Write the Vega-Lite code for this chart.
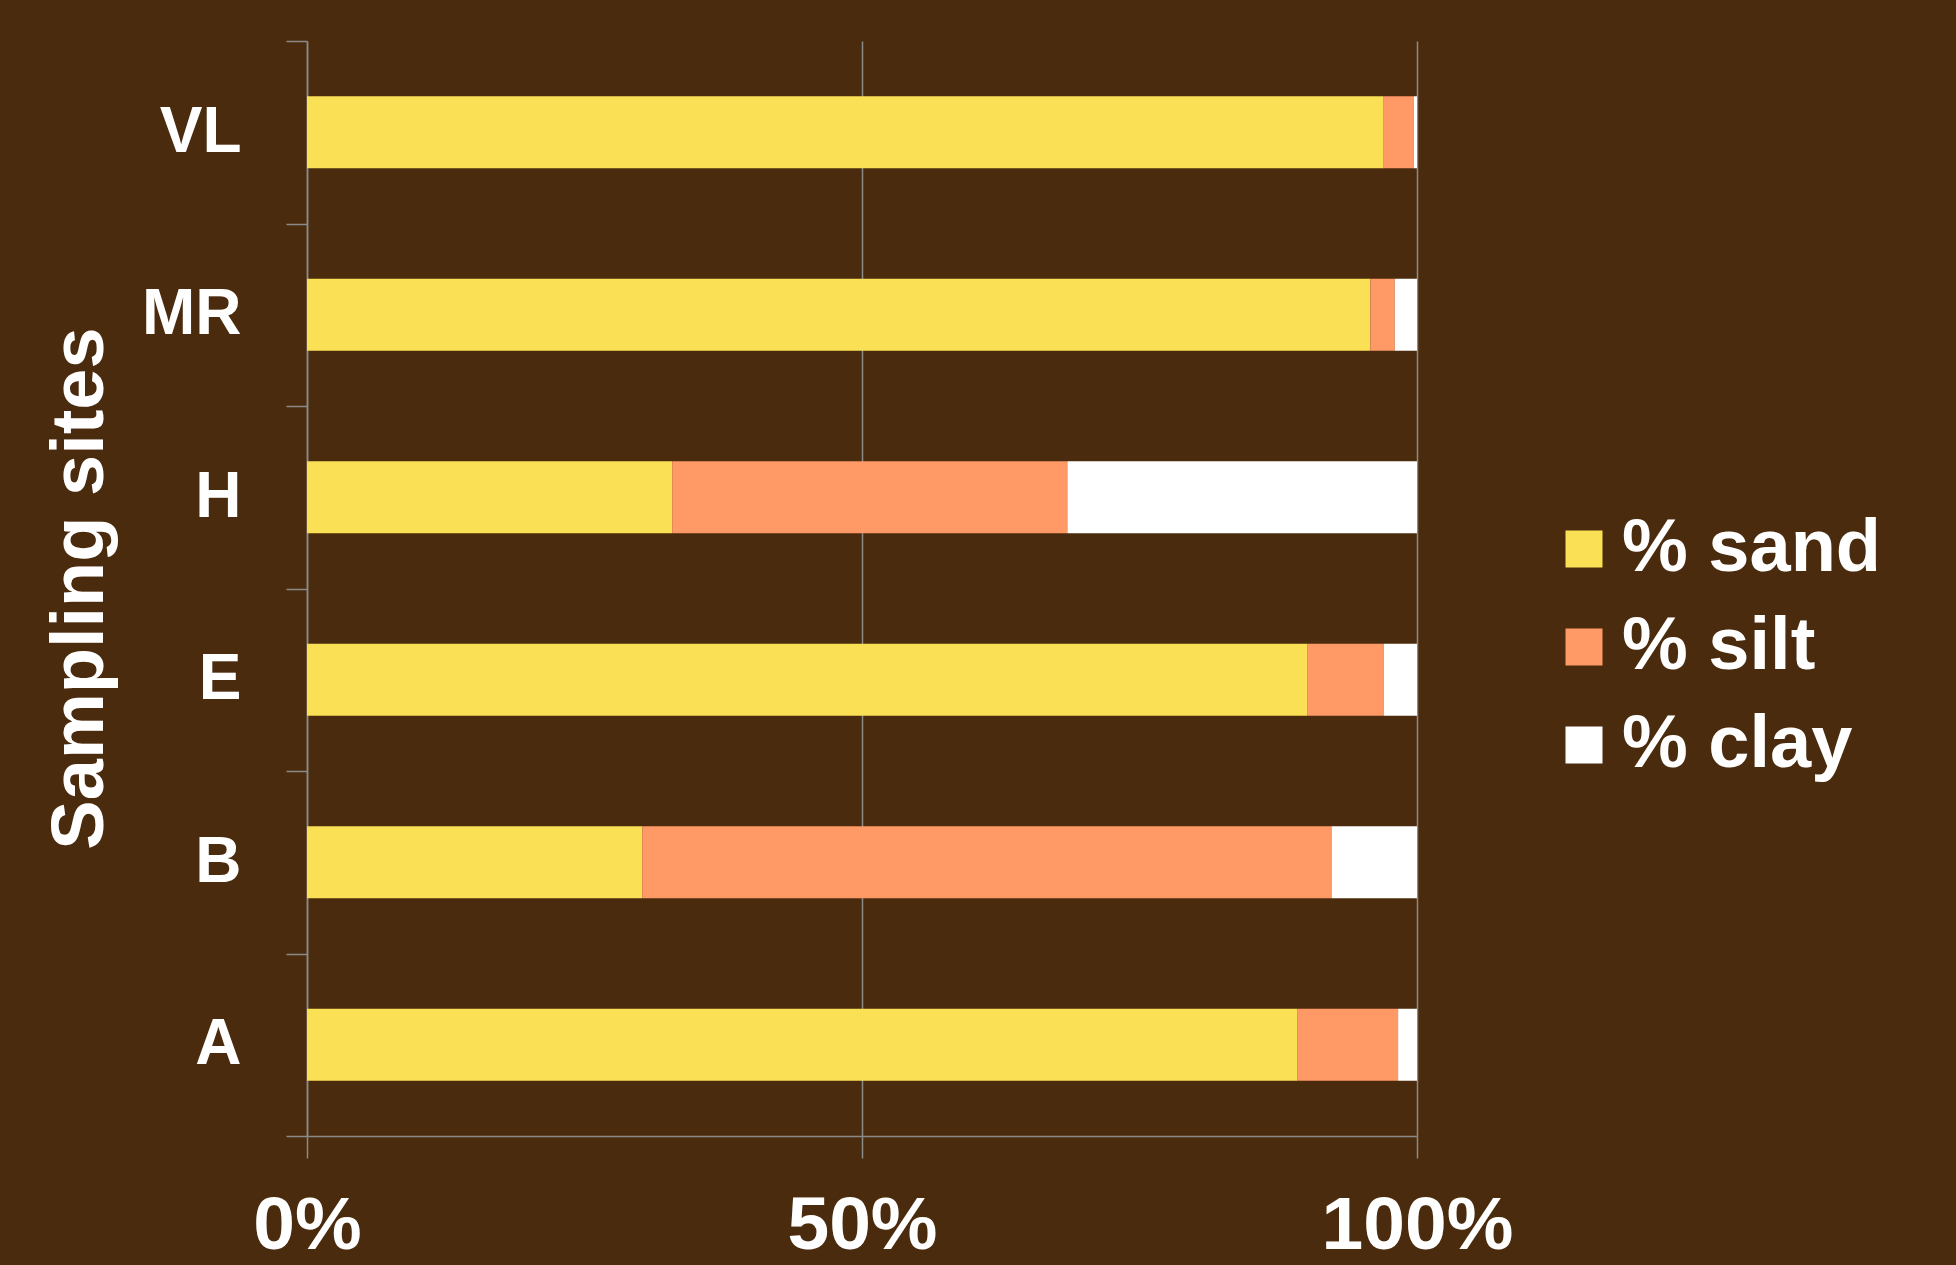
{
  "$schema": "https://vega.github.io/schema/vega-lite/v6.json",
  "autosize": "none",
  "width": 1110,
  "height": 1095,
  "padding": {"left": 307, "top": 41, "right": 539, "bottom": 129},
  "background": "#4b2b0d",
  "config": {
    "view": {"stroke": null},
    "font": "Liberation Sans"
  },
  "data": {
    "values": [
      {"site": "A", "component": "% sand", "ord": 1, "pct": 89.2},
      {"site": "A", "component": "% silt", "ord": 2, "pct": 9.1},
      {"site": "A", "component": "% clay", "ord": 3, "pct": 1.7},
      {"site": "B", "component": "% sand", "ord": 1, "pct": 30.2},
      {"site": "B", "component": "% silt", "ord": 2, "pct": 62.1},
      {"site": "B", "component": "% clay", "ord": 3, "pct": 7.7},
      {"site": "E", "component": "% sand", "ord": 1, "pct": 90.1},
      {"site": "E", "component": "% silt", "ord": 2, "pct": 6.9},
      {"site": "E", "component": "% clay", "ord": 3, "pct": 3.0},
      {"site": "H", "component": "% sand", "ord": 1, "pct": 32.9},
      {"site": "H", "component": "% silt", "ord": 2, "pct": 35.6},
      {"site": "H", "component": "% clay", "ord": 3, "pct": 31.5},
      {"site": "MR", "component": "% sand", "ord": 1, "pct": 95.8},
      {"site": "MR", "component": "% silt", "ord": 2, "pct": 2.2},
      {"site": "MR", "component": "% clay", "ord": 3, "pct": 2.0},
      {"site": "VL", "component": "% sand", "ord": 1, "pct": 97.0},
      {"site": "VL", "component": "% silt", "ord": 2, "pct": 2.7},
      {"site": "VL", "component": "% clay", "ord": 3, "pct": 0.3}
    ]
  },
  "mark": {"type": "bar", "size": 72},
  "encoding": {
    "y": {
      "field": "site",
      "type": "nominal",
      "sort": ["VL", "MR", "H", "E", "B", "A"],
      "scale": {"paddingInner": 0, "paddingOuter": 0},
      "axis": {
        "title": "Sampling sites",
        "titleFont": "Liberation Sans",
        "titleFontWeight": "bold",
        "titleFontSize": 74,
        "titleColor": "#ffffff",
        "titleAngle": -90,
        "titleAlign": "center",
        "titleBaseline": "bottom",
        "titleX": -189,
        "titleY": 547,
        "labelFont": "Liberation Sans",
        "labelFontWeight": "bold",
        "labelFontSize": 64,
        "labelColor": "#ffffff",
        "labelPadding": 45,
        "tickSize": 21,
        "tickBand": "extent",
        "tickColor": "#8a8a8a",
        "tickWidth": 1.5,
        "domainColor": "#8a8a8a",
        "domainWidth": 1.5,
        "grid": false
      }
    },
    "x": {
      "field": "pct",
      "type": "quantitative",
      "stack": "zero",
      "scale": {"domain": [0, 100], "nice": false},
      "axis": {
        "title": null,
        "values": [0, 50, 100],
        "labelExpr": "datum.value + '%'",
        "labelFont": "Liberation Sans",
        "labelFontWeight": "bold",
        "labelFontSize": 75,
        "labelColor": "#ffffff",
        "labelPadding": 31,
        "labelFlush": false,
        "labelLimit": 400,
        "labelOverlap": false,
        "tickSize": 22,
        "tickColor": "#8a8a8a",
        "tickWidth": 1.5,
        "domainColor": "#8a8a8a",
        "domainWidth": 1.5,
        "grid": true,
        "gridColor": "#8a8a8a",
        "gridWidth": 1.5
      }
    },
    "color": {
      "field": "component",
      "type": "nominal",
      "scale": {"domain": ["% sand", "% silt", "% clay"], "range": ["#fae055", "#ff9966", "#ffffff"]},
      "legend": {
        "title": null,
        "orient": "none",
        "legendX": 1240,
        "legendY": 471,
        "padding": 0,
        "symbolType": "square",
        "symbolSize": 1369,
        "symbolStrokeWidth": 0,
        "labelFont": "Liberation Sans",
        "labelFontWeight": "bold",
        "labelFontSize": 74,
        "labelColor": "#ffffff",
        "labelOffset": 1,
        "rowPadding": 24,
        "labelLimit": 400
      }
    },
    "order": {"field": "ord", "type": "quantitative"}
  }
}
